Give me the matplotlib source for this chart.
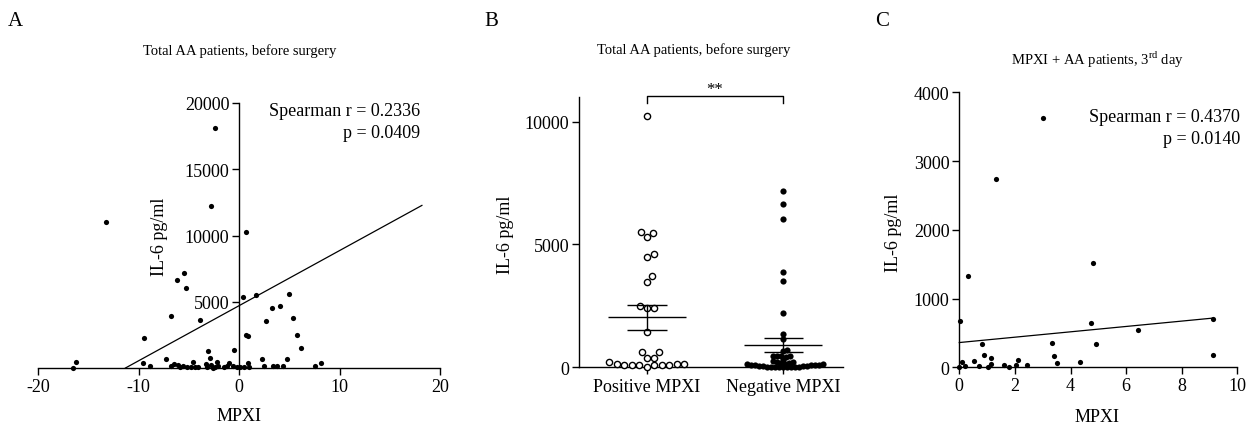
import numpy as np
import matplotlib
matplotlib.use("Agg")
import matplotlib.pyplot as plt

plt.rcParams['font.family'] = ['Liberation Serif', 'DejaVu Serif']
plt.rcParams['axes.unicode_minus'] = False
plt.rcParams['mathtext.fontset'] = 'custom'
plt.rcParams['mathtext.rm'] = 'Liberation Serif'

# Panel A: total AA patients before surgery, MPXI vs IL-6
a_mpxi = [-2.4, -13.2, -2.8, 0.7, -5.5, -6.2, -5.3, 0.4, 1.7, 4.95, 4.05, 3.25, 5.35, 2.65,
          -3.9, -6.8, 0.7, 0.85, 5.8, 6.15, -9.5, -0.45, -3.1, -2.9, -16.2, -16.5, -9.6, -8.9,
          -7.3, -6.8, -6.5, -6.05, -5.6, -5.2, -4.6, -4.75, -4.35, -3.3, -3.2, -2.8, -2.55, -2.2,
          -2.1, -1.5, -0.95, -1.15, -0.55, 0.05, 0.85, 1.0, 2.25, 2.45, 3.35, 3.75, 4.4, 4.75,
          7.55, 8.15, -5.9, -4.1, -2.4, -0.2, 0.5]
a_il6 = [18090, 11030, 12230, 10240, 7190, 6640, 6060, 5360, 5510, 5560, 4680, 4530, 3770, 3550,
         3600, 3920, 2520, 2440, 2490, 1530, 2290, 1380, 1260, 780, 430, 30, 380, 150,
         650, 180, 280, 230, 130, 80, 450, 80, 80, 300, 50, 250, 30, 430,
         130, 80, 380, 130, 130, 80, 350, 50, 650, 150, 130, 180, 150, 650,
         180, 400, 60, 40, 60, 60, 40]
a_fit_x = [-11.3, 18.2]
a_intercept, a_slope = 4700, 416
a_r, a_p = "0.2336", "0.0409"

# Panel B: IL-6 by MPXI group
groups = ["Positive MPXI", "Negative MPXI"]
pos_il6 = [10220, 5500, 5290, 5460, 4630, 4480, 3490, 3710, 2430, 2400, 2510, 1450, 640, 620,
           390, 370, 200, 130, 120, 120, 110, 110, 100, 100, 90, 80, 30]
neg_il6 = [7160, 6640, 6030, 3900, 3520, 2200, 1360, 1150, 720, 650, 450, 450, 450, 440, 430,
           310, 250, 220, 200, 180, 160, 150, 130, 120, 110, 100, 100, 90, 80, 70, 60, 50, 40,
           30, 20, 20, 10, 10, 10, 0, 0, 0]
sig_label = "**"

# Panel C: MPXI + AA patients, 3rd day
c_mpxi = [3.02, 1.32, 0.32, 4.82, 0.01, 4.73, 6.42, 9.13, 9.13, 0.83, 3.32, 4.92, 0.9, 1.13,
          3.42, 3.53, 4.35, 0.11, 0.53, 0.71, 0.2, 0.0, 1.02, 1.13, 1.62, 1.8, 2.03, 2.12, 2.42]
c_il6 = [3630, 2740, 1333, 1512, 674, 640, 538, 707, 175, 339, 349, 335, 179, 136,
         170, 63, 73, 82, 87, 24, 15, 0, 5, 48, 39, 10, 34, 112, 39]
c_fit_x = [0.0, 9.13]
c_intercept, c_slope = 360, 39
c_r, c_p = "0.4370", "0.0140"

W, H = 1248, 427
fig = plt.figure(figsize=(W / 100, H / 100), dpi=100)


def box(l, t, r, b):
    return [l / W, 1 - b / H, (r - l) / W, (b - t) / H]


def ftext(x, y, s, **kw):
    fig.text(x / W, 1 - y / H, s, **kw)


def style(ax):
    for side in ("top", "right"):
        ax.spines[side].set_visible(False)
    for side in ("left", "bottom"):
        ax.spines[side].set_linewidth(1.0)
    ax.tick_params(direction="out", length=5, width=1.0, labelsize=13, pad=2)


def swarm_x(values, pos, ax, diam):
    # put each point, lowest first, at the free offset nearest the group centre
    tr = ax.transData
    pts = tr.transform(np.column_stack([np.full(len(values), pos), values]))
    cx = pts[0, 0]
    placed = []
    xs = np.empty(len(values))
    for i in np.argsort(values, kind="stable"):
        y = pts[i, 1]
        k = 0
        while True:
            off = ((k + 1) // 2) * (1 if k % 2 else -1) * 0.5
            if all((off - px) ** 2 + (y - py) ** 2 >= diam ** 2 for px, py in placed):
                break
            k += 1
        placed.append((off, y))
        xs[i] = tr.inverted().transform((cx + off, y))[0]
    return xs


# ---- A ----
axA = fig.add_axes(box(38, 104, 440, 369))
style(axA)
axA.set_xlim(-20, 20)
axA.set_ylim(0, 20000)
axA.spines["left"].set_position(("data", 0))
axA.set_xticks([-20, -10, 0, 10, 20])
axA.set_yticks([5000, 10000, 15000, 20000])
axA.scatter(a_mpxi, a_il6, s=14, color="black", linewidths=0, clip_on=False, zorder=3)
fx = np.array(a_fit_x)
axA.plot(fx, a_intercept + a_slope * fx, color="black", lw=0.9, clip_on=False)
ftext(420, 111, f"Spearman r = {a_r}", ha="right", va="center", fontsize=13)
ftext(420, 133, f"p = {a_p}", ha="right", va="center", fontsize=13)
ftext(159, 237, "IL-6 pg/ml", rotation=90, ha="center", va="center", fontsize=13)
ftext(239, 417, "MPXI", ha="center", va="center", fontsize=13)
ftext(240, 51, "Total AA patients, before surgery", ha="center", va="center", fontsize=10.5)
ftext(15, 21, "A", ha="center", va="center", fontsize=15)

# ---- B ----
axB = fig.add_axes(box(579, 98.1, 843, 368.3))
style(axB)
axB.set_xlim(-0.496, 1.437)
axB.set_ylim(0, 11000)
axB.set_xticks([0, 1])
axB.set_xticklabels(groups)
axB.set_yticks([0, 5000, 10000])
axB.tick_params(axis="x", pad=3)
for i, (vals, filled) in enumerate([(pos_il6, False), (neg_il6, True)]):
    v = np.array(vals, dtype=float)
    xs = swarm_x(v, i, axB, 7.5 if not filled else 3.9)
    if filled:
        axB.scatter(xs, v, s=20, color="black", linewidths=0, clip_on=False, zorder=3)
    else:
        axB.scatter(xs, v, s=20, facecolor="white", edgecolor="black", linewidths=1.0,
                    clip_on=False, zorder=3)
    m = v.mean()
    se = v.std(ddof=1) / np.sqrt(len(v))
    axB.hlines(m, i - 0.286, i + 0.286, color="black", lw=1.0, zorder=4)
    axB.hlines([m - se, m + se], i - 0.145, i + 0.145, color="black", lw=1.0, zorder=4)
    axB.vlines(i, m - se, m + se, color="black", lw=1.0, zorder=4)
axB.plot([0, 0, 1, 1], [10760, 11060, 11060, 10760], color="black", lw=1.0, clip_on=False)
axB.text(0.5, 11330, sig_label, ha="center", va="center", fontsize=12)
ftext(505, 235, "IL-6 pg/ml", rotation=90, ha="center", va="center", fontsize=13)
ftext(694, 50, "Total AA patients, before surgery", ha="center", va="center", fontsize=10.5)
ftext(491, 21, "B", ha="center", va="center", fontsize=15)

# ---- C ----
axC = fig.add_axes(box(959.3, 93.3, 1237.3, 368.3))
style(axC)
axC.set_xlim(0, 10)
axC.set_ylim(0, 4000)
axC.set_xticks(range(0, 11, 2))
axC.set_yticks(range(0, 4001, 1000))
axC.scatter(c_mpxi, c_il6, s=14, color="black", linewidths=0, clip_on=False, zorder=3)
fx = np.array(c_fit_x)
axC.plot(fx, c_intercept + c_slope * fx, color="black", lw=0.9, clip_on=False)
ftext(1240, 118, f"Spearman r = {c_r}", ha="right", va="center", fontsize=13)
ftext(1240, 140, f"p = {c_p}", ha="right", va="center", fontsize=13)
ftext(893, 233, "IL-6 pg/ml", rotation=90, ha="center", va="center", fontsize=13)
ftext(1097, 418, "MPXI", ha="center", va="center", fontsize=13)
ftext(1097, 60, r"MPXI + AA patients, 3$^{\mathrm{rd}}$ day", ha="center", va="center",
      fontsize=10.5)
ftext(882, 21, "C", ha="center", va="center", fontsize=15)

fig.savefig("out.png", dpi=100)
